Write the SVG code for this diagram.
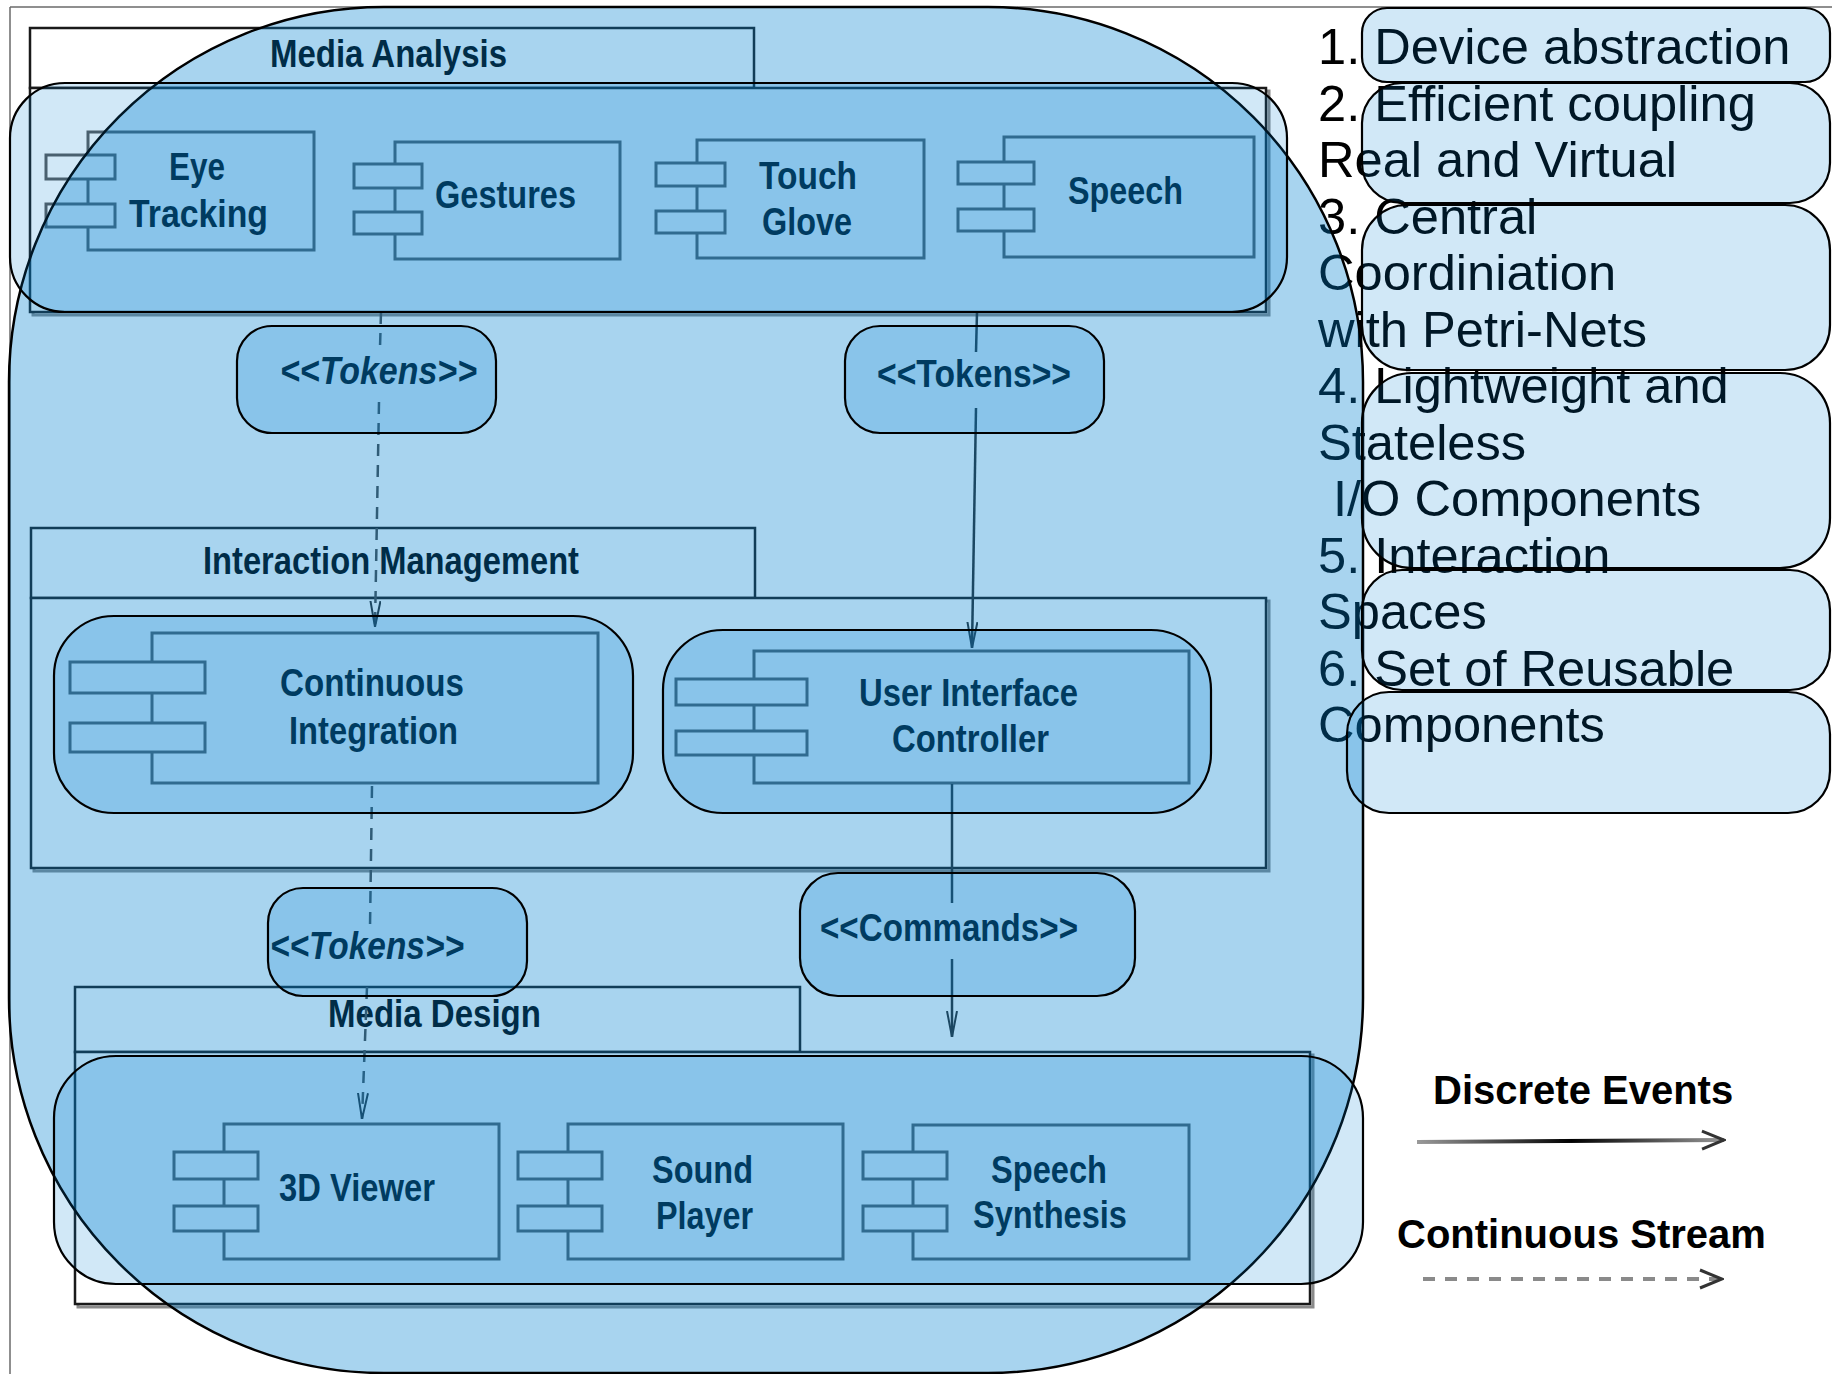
<svg xmlns="http://www.w3.org/2000/svg" width="1832" height="1374" viewBox="0 0 1832 1374">
<defs>
<style>
.frame{fill:#fff;stroke:#1a1a1a;stroke-width:2.5}
.shadow{fill:none;stroke:#8a8a8a;stroke-width:3}
.comp{fill:#fff;stroke:#5a5a5a;stroke-width:3}
.lbl{font-family:"Liberation Sans",Arial,sans-serif;font-weight:bold;font-size:38px;fill:#000}
.it{font-style:italic}
.conn{fill:none;stroke:#2a2a2a;stroke-width:2.5}
.dash{stroke:#4a4a4a;stroke-dasharray:12 9}
.big{fill:#0082d0;fill-opacity:0.34;stroke:#000;stroke-width:2.5}
.ov{fill:#0082d0;fill-opacity:0.18;stroke:#000;stroke-width:2.2}
.leg{font-family:"Liberation Sans",Arial,sans-serif;font-size:50.6px;fill:#000}
.legb{font-family:"Liberation Sans",Arial,sans-serif;font-size:40px;font-weight:bold;fill:#000}
</style>
<marker id="vhead" viewBox="0 0 26 12" refX="26" refY="6" markerWidth="26" markerHeight="12" markerUnits="userSpaceOnUse" orient="auto">
<path d="M0,1 L26,6 L0,11" fill="none" stroke="#2a2a2a" stroke-width="2"/>
</marker>
<marker id="lhead" viewBox="0 0 26 22" refX="24" refY="11" markerWidth="26" markerHeight="22" markerUnits="userSpaceOnUse" orient="auto">
<path d="M2,2 L24,11 L2,20" fill="none" stroke="#333" stroke-width="3"/>
</marker>
<linearGradient id="lgrad" gradientUnits="userSpaceOnUse" x1="1417" y1="0" x2="1726" y2="0">
<stop offset="0" stop-color="#9a9a9a"/>
<stop offset="0.5" stop-color="#000"/>
<stop offset="1" stop-color="#9a9a9a"/>
</linearGradient>
</defs>
<rect width="1832" height="1374" fill="#fff"/>
<g id="outer-frame" fill="none" stroke="#6a6a6a" stroke-width="1.5">
<line x1="10" y1="7" x2="1832" y2="7"/>
<line x1="10" y1="7" x2="10" y2="1374"/>
</g>

<g id="frame-media-analysis">
<rect class="shadow" x="33" y="91" width="1236" height="224"/>
<rect class="frame" x="30" y="28" width="724" height="60"/>
<rect class="frame" x="30" y="88" width="1236" height="224"/>
<text class="lbl" x="270" y="67" textLength="237" lengthAdjust="spacingAndGlyphs">Media Analysis</text>
</g>
<g id="frame-interaction-management">
<rect class="shadow" x="34" y="601" width="1235" height="270"/>
<rect class="frame" x="31" y="528" width="724" height="70"/>
<rect class="frame" x="31" y="598" width="1235" height="270"/>
<text class="lbl" x="203" y="574" textLength="376" lengthAdjust="spacingAndGlyphs">Interaction Management</text>
</g>
<g id="frame-media-design">
<rect class="shadow" x="78" y="1055" width="1235" height="252"/>
<rect class="frame" x="75" y="987" width="725" height="65"/>
<rect class="frame" x="75" y="1052" width="1235" height="252"/>
<text class="lbl" x="328" y="1027" textLength="213" lengthAdjust="spacingAndGlyphs">Media Design</text>
</g>

<g id="node-eye-tracking">
<rect class="comp" x="88" y="132" width="226" height="118"/>
<rect class="comp" x="46" y="155" width="69" height="24"/>
<rect class="comp" x="46" y="204" width="69" height="23"/>
<text class="lbl" x="169" y="180" textLength="56" lengthAdjust="spacingAndGlyphs">Eye</text>
<text class="lbl" x="129" y="227" textLength="139" lengthAdjust="spacingAndGlyphs">Tracking</text>
</g>
<g id="node-gestures">
<rect class="comp" x="395" y="142" width="225" height="117"/>
<rect class="comp" x="354" y="164" width="68" height="24"/>
<rect class="comp" x="354" y="212" width="68" height="22"/>
<text class="lbl" x="435" y="208" textLength="141" lengthAdjust="spacingAndGlyphs">Gestures</text>
</g>
<g id="node-touch-glove">
<rect class="comp" x="697" y="140" width="227" height="118"/>
<rect class="comp" x="656" y="163" width="69" height="23"/>
<rect class="comp" x="656" y="211" width="69" height="22"/>
<text class="lbl" x="759" y="189" textLength="98" lengthAdjust="spacingAndGlyphs">Touch</text>
<text class="lbl" x="762" y="235" textLength="90" lengthAdjust="spacingAndGlyphs">Glove</text>
</g>
<g id="node-speech">
<rect class="comp" x="1004" y="137" width="250" height="120"/>
<rect class="comp" x="958" y="162" width="76" height="22"/>
<rect class="comp" x="958" y="209" width="76" height="22"/>
<text class="lbl" x="1068" y="204" textLength="115" lengthAdjust="spacingAndGlyphs">Speech</text>
</g>
<g id="node-continuous-integration">
<rect class="comp" x="152" y="633" width="446" height="150"/>
<rect class="comp" x="70" y="662" width="135" height="31"/>
<rect class="comp" x="70" y="723" width="135" height="29"/>
<text class="lbl" x="280" y="696" textLength="184" lengthAdjust="spacingAndGlyphs">Continuous</text>
<text class="lbl" x="289" y="744" textLength="169" lengthAdjust="spacingAndGlyphs">Integration</text>
</g>
<g id="node-user-interface-controller">
<rect class="comp" x="754" y="651" width="435" height="132"/>
<rect class="comp" x="676" y="679" width="131" height="26"/>
<rect class="comp" x="676" y="731" width="131" height="24"/>
<text class="lbl" x="859" y="706" textLength="219" lengthAdjust="spacingAndGlyphs">User Interface</text>
<text class="lbl" x="892" y="752" textLength="157" lengthAdjust="spacingAndGlyphs">Controller</text>
</g>
<g id="node-3d-viewer">
<rect class="comp" x="224" y="1124" width="275" height="135"/>
<rect class="comp" x="174" y="1152" width="84" height="27"/>
<rect class="comp" x="174" y="1206" width="84" height="25"/>
<text class="lbl" x="279" y="1201" textLength="156" lengthAdjust="spacingAndGlyphs">3D Viewer</text>
</g>
<g id="node-sound-player">
<rect class="comp" x="568" y="1124" width="275" height="135"/>
<rect class="comp" x="518" y="1152" width="84" height="27"/>
<rect class="comp" x="518" y="1206" width="84" height="25"/>
<text class="lbl" x="652" y="1183" textLength="101" lengthAdjust="spacingAndGlyphs">Sound</text>
<text class="lbl" x="656" y="1229" textLength="97" lengthAdjust="spacingAndGlyphs">Player</text>
</g>
<g id="node-speech-synthesis">
<rect class="comp" x="913" y="1125" width="276" height="134"/>
<rect class="comp" x="863" y="1152" width="84" height="27"/>
<rect class="comp" x="863" y="1206" width="84" height="25"/>
<text class="lbl" x="991" y="1183" textLength="116" lengthAdjust="spacingAndGlyphs">Speech</text>
<text class="lbl" x="973" y="1228" textLength="154" lengthAdjust="spacingAndGlyphs">Synthesis</text>
</g>

<g id="connectors">
<path class="conn dash" d="M381,312 L380,348"/>
<path class="conn dash" d="M379,402 L375,627" marker-end="url(#vhead)"/>
<text class="lbl it" x="280" y="384" textLength="197" lengthAdjust="spacingAndGlyphs">&lt;&lt;Tokens&gt;&gt;</text>
<path class="conn" d="M977,312 L976,352"/>
<path class="conn" d="M976,408 L972,648" marker-end="url(#vhead)"/>
<text class="lbl" x="877" y="387" textLength="194" lengthAdjust="spacingAndGlyphs">&lt;&lt;Tokens&gt;&gt;</text>
<path class="conn dash" d="M372,786 L370,927"/>
<path class="conn dash" d="M367,987 L362,1119" marker-end="url(#vhead)"/>
<text class="lbl it" x="270" y="959" textLength="194" lengthAdjust="spacingAndGlyphs">&lt;&lt;Tokens&gt;&gt;</text>
<path class="conn" d="M952,784 L952,903"/>
<path class="conn" d="M952,959 L952,1037" marker-end="url(#vhead)"/>
<text class="lbl" x="820" y="941" textLength="258" lengthAdjust="spacingAndGlyphs">&lt;&lt;Commands&gt;&gt;</text>
</g>

<g id="legend-text">
<text class="leg" x="1318" y="64">1. Device abstraction</text>
<text class="leg" x="1318" y="120.5">2. Efficient coupling</text>
<text class="leg" x="1318" y="177">Real and Virtual</text>
<text class="leg" x="1318" y="233.5">3. Central</text>
<text class="leg" x="1318" y="290">Coordiniation</text>
<text class="leg" x="1318" y="346.5">with Petri-Nets</text>
<text class="leg" x="1318" y="403">4. Lightweight and</text>
<text class="leg" x="1318" y="459.5">Stateless</text>
<text class="leg" x="1333" y="516">I/O Components</text>
<text class="leg" x="1318" y="572.5">5. Interaction</text>
<text class="leg" x="1318" y="629">Spaces</text>
<text class="leg" x="1318" y="685.5">6. Set of Reusable</text>
<text class="leg" x="1318" y="742">Components</text>
</g>

<g id="legend-arrows">
<text class="legb" x="1433" y="1104">Discrete Events</text>
<line x1="1417" y1="1142" x2="1724" y2="1140" stroke="url(#lgrad)" stroke-width="4" marker-end="url(#lhead)"/>
<text class="legb" x="1397" y="1248">Continuous Stream</text>
<line x1="1423" y1="1279" x2="1722" y2="1279" stroke="#8a8a8a" stroke-width="4" stroke-dasharray="12 10" marker-end="url(#lhead)"/>
</g>

<g id="highlight-big">
<rect class="big" x="9" y="7" width="1354" height="1366" rx="375" ry="375"/>
</g>

<g id="highlight-boxes">
<rect id="hl-media-analysis" class="ov" x="10" y="83" width="1277" height="229" rx="55"/>
<rect id="hl-tokens-1" class="ov" x="237" y="326" width="259" height="107" rx="35"/>
<rect id="hl-tokens-2" class="ov" x="845" y="326" width="259" height="107" rx="35"/>
<rect id="hl-continuous-integration" class="ov" x="54" y="616" width="579" height="197" rx="60"/>
<rect id="hl-ui-controller" class="ov" x="663" y="630" width="548" height="183" rx="60"/>
<rect id="hl-tokens-3" class="ov" x="268" y="888" width="259" height="108" rx="35"/>
<rect id="hl-commands" class="ov" x="800" y="873" width="335" height="123" rx="38"/>
<rect id="hl-media-design" class="ov" x="54" y="1056" width="1309" height="228" rx="62"/>
<rect id="hl-legend-1" class="ov" x="1362" y="8" width="468" height="74" rx="25"/>
<rect id="hl-legend-2" class="ov" x="1362" y="83" width="468" height="120" rx="40"/>
<rect id="hl-legend-3" class="ov" x="1362" y="205" width="468" height="165" rx="45"/>
<rect id="hl-legend-4" class="ov" x="1362" y="373" width="468" height="195" rx="50"/>
<rect id="hl-legend-5" class="ov" x="1362" y="570" width="468" height="120" rx="40"/>
<rect id="hl-legend-6" class="ov" x="1347" y="692" width="483" height="121" rx="42"/>
</g>
</svg>
